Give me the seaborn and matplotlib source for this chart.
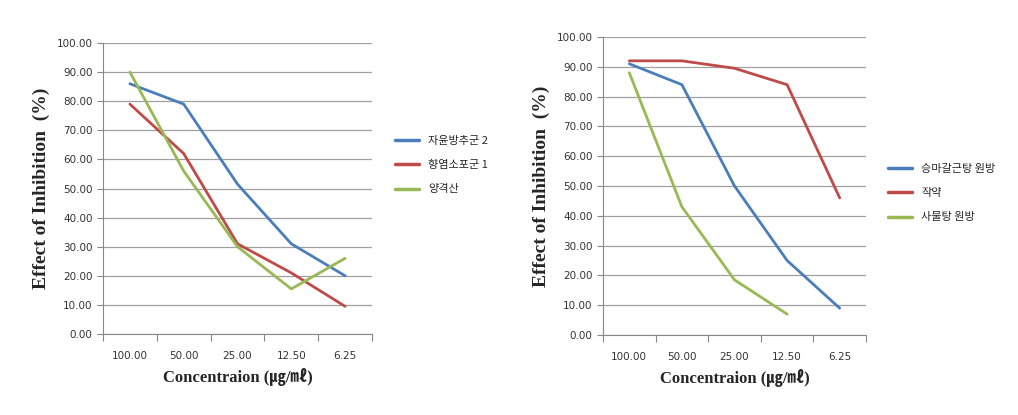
import matplotlib
matplotlib.use("Agg")
import matplotlib.pyplot as plt
import seaborn as sns
import pandas as pd
import numpy as np
from matplotlib.ticker import FixedLocator, NullFormatter

concentrations = ["100.00", "50.00", "25.00", "12.50", "6.25"]
yticks = [0, 10, 20, 30, 40, 50, 60, 70, 80, 90, 100]

left_names = ["자윤방추군 2", "향염소포군 1", "양격산"]
left_blue = [86.0, 79.0, 51.5, 31.0, 20.0]
left_red = [79.0, 62.0, 31.0, 21.0, 9.5]
left_green = [90.0, 56.0, 30.0, 15.5, 26.0]

right_names = ["승마갈근탕 원방", "작약", "사물탕 원방"]
right_blue = [91.0, 84.0, 50.0, 25.0, 9.0]
right_red = [92.0, 92.0, 89.5, 84.0, 46.0]
right_green = [88.0, 43.0, 18.5, 7.0, np.nan]

colors = ["#4A7EBB", "#BE4B48", "#98B954"]

sns.set_style("white")
plt.rcParams['font.family'] = ['Noto Sans CJK KR', 'DejaVu Sans']

fig = plt.figure(figsize=(10.18, 4.15), dpi=100)
W, H = 1018, 415
ax1 = fig.add_axes([103 / W, 1 - 334 / H, (372 - 103) / W, (334 - 43) / H])
ax2 = fig.add_axes([603 / W, 1 - 335 / H, (866 - 603) / W, (335 - 37) / H])


def make_df(names, series):
    rows = []
    for n, vals in zip(names, series):
        for i, v in enumerate(vals):
            rows.append({"x": i, "y": v, "series": n})
    return pd.DataFrame(rows)


def draw(ax, names, series, legend_anchor):
    df = make_df(names, series)
    sns.lineplot(data=df, x="x", y="y", hue="series", hue_order=names,
                 palette=colors, linewidth=2.0, ax=ax, legend=True)
    ax.set_xlim(-0.5, 4.5)
    ax.set_ylim(0, 100)
    ax.set_yticks(yticks)
    ax.set_yticklabels([f"{v:.2f}" for v in yticks], fontsize=7.5,
                       family=['DejaVu Sans'], color="#333333")
    ax.xaxis.set_major_locator(FixedLocator(np.arange(-0.5, 5, 1)))
    ax.xaxis.set_major_formatter(NullFormatter())
    ax.xaxis.set_minor_locator(FixedLocator(np.arange(0, 5, 1)))
    ax.set_xticklabels(concentrations, minor=True, fontsize=7.5,
                       family=['DejaVu Sans'], color="#333333")
    ax.tick_params(axis="x", which="major", length=5, color="#888888", width=0.8, direction="out", bottom=True)
    ax.tick_params(axis="x", which="minor", length=0, pad=12)
    ax.tick_params(axis="y", length=4, color="#888888", width=0.8, left=True, direction="out")
    ax.grid(axis="y", color="#A0A0A0", linewidth=0.9)
    ax.set_axisbelow(True)
    for s in ["top", "right"]:
        ax.spines[s].set_visible(False)
    ax.spines["left"].set_color("#888888")
    ax.spines["bottom"].set_color("#888888")
    ax.set_xlabel("Concentraion (㎍/㎖)", fontsize=12, fontweight="bold",
                  family=['Liberation Serif', 'Noto Sans CJK KR'], labelpad=5)
    ax.set_ylabel("Effect of Inhibition  (%)", fontsize=14, fontweight="bold",
                  family=['Liberation Serif'], labelpad=5)
    leg = ax.legend(loc="center left", bbox_to_anchor=legend_anchor, frameon=False,
                    fontsize=8, handlelength=2.2, labelspacing=1.3,
                    bbox_transform=fig.transFigure)
    for line in leg.get_lines():
        line.set_linewidth(2.5)


draw(ax1, left_names, [left_blue, left_red, left_green], (385 / W, 1 - 165 / H))
draw(ax2, right_names, [right_blue, right_red, right_green], (878 / W, 1 - 193 / H))

fig.savefig("out.png", dpi=100)
